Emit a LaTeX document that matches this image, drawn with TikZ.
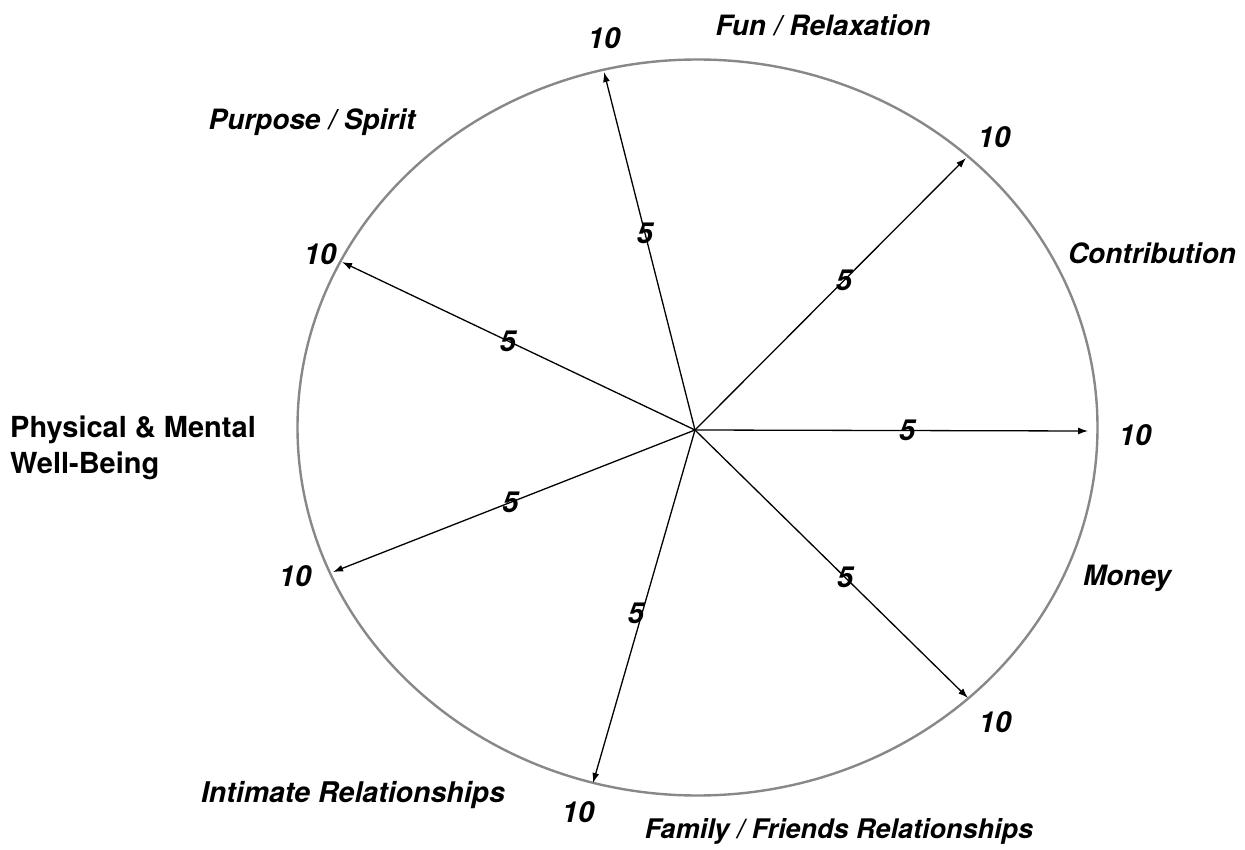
\documentclass[tikz,border=0pt]{standalone}
\usepackage{fontspec}
\setmainfont{TeX Gyre Heros}
\usetikzlibrary{arrows.meta}
\definecolor{rim}{HTML}{87878C}

\begin{document}
\begin{tikzpicture}[
    x=1pt, y=-1pt,
    area/.style={inner sep=0pt,font=\fontsize{28}{36}\selectfont\bfseries\itshape},
    score/.style={inner sep=0pt,font=\fontsize{29}{34}\selectfont\bfseries\itshape},
    spoke/.style={-{Latex[length=10pt,width=7pt]},line width=1.3pt}
  ]
    \useasboundingbox (0,0) rectangle (1245,850);
    \draw[rim,line width=2.4pt] (697.5,427.5) ellipse [x radius=400, y radius=368];

    \coordinate (hub) at (695,430);
    \coordinate (money)    at (1088,431);
    \coordinate (contrib)  at (966,158);
    \coordinate (fun)      at (604,72);
    \coordinate (purpose)  at (342,262);
    \coordinate (health)   at (333,572);
    \coordinate (intimate) at (593,783);
    \coordinate (family)   at (968,698);

    \draw[spoke] (hub) -- node[score,pos=0.54] {5} (money);
    \draw[spoke] (hub) -- node[score,pos=0.55] {5} (contrib);
    \draw[spoke] (hub) -- node[score,pos=0.55] {5} (fun);
    \draw[spoke] (hub) -- node[score,pos=0.53] {5} (purpose);
    \draw[spoke] (hub) -- node[score,pos=0.51] {5} (health);
    \draw[spoke] (hub) -- node[score,pos=0.52,xshift=-6pt] {5} (intimate);
    \draw[spoke] (hub) -- node[score,pos=0.55] {5} (family);

    % scale ends
    \node[score] (tMoney)    at (1135,435) {10};
    \node[score] (tContrib)  at (994,137)  {10};
    \node[score] (tFun)      at (604,38)   {10};
    \node[score] (tPurpose)  at (320,254)  {10};
    \node[score] (tHealth)   at (295,576)  {10};
    \node[score] (tIntimate) at (578,812)  {10};
    \node[score] (tFamily)   at (995,722)  {10};

    % life areas
    \node[area] (lFun)      at (823,25)  {Fun / Relaxation};
    \node[area] (lPurpose)  at (312,122) {Purpose / Spirit};
    \node[area] (lContrib)  at (1152,253) {Contribution};
    \node[area,font=\fontsize{29}{36}\selectfont\bfseries,align=left,anchor=west] (lHealth) at (10,448) {Physical \& Mental\\Well-Being};
    \node[area] (lMoney)    at (1127,578) {Money};
    \node[area,font=\fontsize{28.5}{36}\selectfont\bfseries\itshape] (lIntimate) at (353,795) {Intimate Relationships};
    \node[area,font=\fontsize{27}{34}\selectfont\bfseries\itshape] (lFamily) at (839,831) {Family / Friends Relationships};
  \end{tikzpicture}
\end{document}
